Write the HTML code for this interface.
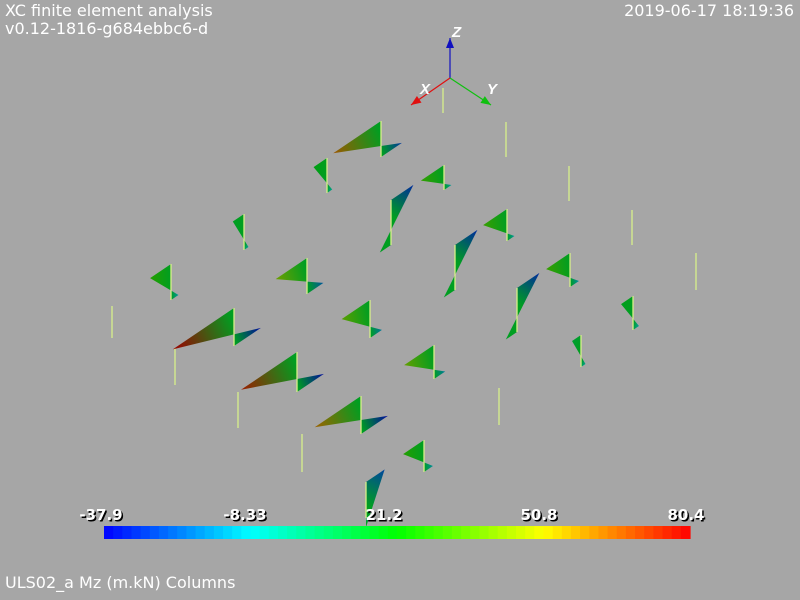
<!DOCTYPE html>
<html><head><meta charset="utf-8"><style>
html,body{margin:0;padding:0;background:#a6a6a6;}
#wrap{position:relative;width:800px;height:600px;overflow:hidden;background:#a6a6a6;font-family:"DejaVu Sans","Liberation Sans",sans-serif;}
.t{position:absolute;color:#fff;font-size:16px;white-space:nowrap;}
</style></head><body>
<div id="wrap">
<div class="t" style="left:5px;top:1px">XC finite element analysis</div>
<div class="t" style="left:5px;top:19px">v0.12-1816-g684ebbc6-d</div>
<div class="t" style="right:6px;top:1px">2019-06-17 18:19:36</div>
<div class="t" style="left:5px;top:573px">ULS02_a Mz (m.kN) Columns</div>
<svg id="svg" width="800" height="600" style="position:absolute;left:0;top:0"></svg>
</div>
<script>
// colour scale
const scaleMin = -37.9, scaleMax = 80.4;
const tickLabels = ["-37.9","-8.33","21.2","50.8","80.4"];
// column elements: screen x, top y, length, moment at top, moment at bottom
const colX =   [381,327,244,171,307,234,297,361,370,434,424,444,391,455,517,507,570,633,581,366];
const colY =   [121,158,214,264,258,308,352,396,300,345,440,165,200,245,288,209,253,296,335,482];
const colLen = [ 36, 35, 36, 36, 36, 38, 40, 38, 38, 34, 32, 25, 45, 45, 44, 32, 34, 34, 32, 36];
const mTop =   [ 64, 18, 15, 28, 42, 82, 75, 62, 38, 40, 28, 31,-30,-30,-30, 32, 32, 16, 12,-25];
const mBot =   [-28, -7, -6,-10,-22,-36,-36,-36,-16,-15,-12,-10, 15, 15, 15,-10,-12, -8, -6, -5];
// columns with negligible moment (drawn as lines)
const lineX = [443,506,569,632,696,112,499,175,238,302];
const lineY = [ 88,122,166,210,253,306,388,348,392,434];
const lineL = [ 25, 35, 35, 35, 37, 32, 37, 37, 36, 38];

const NS="http://www.w3.org/2000/svg";
const svg=document.getElementById('svg');
const defs=document.createElementNS(NS,'defs');svg.appendChild(defs);
const K=0.9, D=[-0.83,0.56];
function colour(v){
  let t=(v-scaleMin)/(scaleMax-scaleMin);t=Math.max(0,Math.min(1,t));
  const st=[[0,0,255],[0,255,255],[0,255,0],[255,255,0],[255,0,0]];
  const p=t*4,i=Math.min(3,Math.floor(p)),f=p-i;
  return st[i].map((a,j)=>a+(st[i+1][j]-a)*f);
}
function shade(c,k){return 'rgb('+c.map(x=>Math.round(x*k)).join(',')+')';}
let gid=0;
function tri(p0,p1,p2,v,name){
  const g=document.createElementNS(NS,'linearGradient');
  const id='g'+(gid++);g.setAttribute('id',id);g.setAttribute('gradientUnits','userSpaceOnUse');
  g.setAttribute('x1',p1[0]);g.setAttribute('y1',p1[1]);
  g.setAttribute('x2',(p0[0]+p2[0])/2);g.setAttribute('y2',(p0[1]+p2[1])/2);
  [[0,colour(v)],[1,colour(15)]].forEach(([o,c])=>{const s=document.createElementNS(NS,'stop');s.setAttribute('offset',o);s.setAttribute('stop-color',shade(c,0.62));g.appendChild(s);});
  defs.appendChild(g);
  const pg=document.createElementNS(NS,'polygon');
  pg.setAttribute('points',[p0,p1,p2].map(p=>p.join(',')).join(' '));
  pg.setAttribute('fill','url(#'+id+')');
  
  
  svg.appendChild(pg);
}
function vline(x,y1,y2,name){
  const l=document.createElementNS(NS,'line');
  l.setAttribute('x1',x);l.setAttribute('x2',x);l.setAttribute('y1',y1);l.setAttribute('y2',y2);
  l.setAttribute('stroke','#d8f08a');l.setAttribute('stroke-width','1.3');
  
  
  svg.appendChild(l);
}
for(let i=0;i<lineX.length;i++){vline(lineX[i],lineY[i],lineY[i]+lineL[i],'column-line');}
for(let i=0;i<colX.length;i++){
  const x=colX[i],y=colY[i],L=colLen[i],a=mTop[i],b=mBot[i];
  const f=a/(a-b); const z=[x,y+L*f];
  const P0=[x,y],P1=[x,y+L];
  const A=[x+D[0]*K*a,y+D[1]*K*a], B=[x+D[0]*K*b,y+L+D[1]*K*b];
  tri(P0,A,z,a,'moment-diagram-top');
  tri(z,B,P1,b,'moment-diagram-bottom');
  vline(x,y,y+L,'column');
}
// axes triad
function arrow(x2,y2,col,name){
  const x1=450,y1=78;
  const l=document.createElementNS(NS,'line');
  l.setAttribute('x1',x1);l.setAttribute('y1',y1);l.setAttribute('x2',x2);l.setAttribute('y2',y2);
  l.setAttribute('stroke',col);l.setAttribute('stroke-width','1.2');
  
  
  svg.appendChild(l);
  const dx=x2-x1,dy=y2-y1,n=Math.hypot(dx,dy),ux=dx/n,uy=dy/n;
  const bx=x2-ux*10,by=y2-uy*10;
  const c=document.createElementNS(NS,'polygon');
  c.setAttribute('points',[[x2,y2],[bx-uy*4,by+ux*4],[bx+uy*4,by-ux*4]].map(p=>p.join(',')).join(' '));
  c.setAttribute('fill',col);
  
  
  svg.appendChild(c);
}
arrow(450,38,'#1010c0','z-axis');arrow(411,105,'#e01010','x-axis');arrow(491,105,'#10c010','y-axis');
[['Z',452,37],['X',420,94],['Y',487,94]].forEach(([t,x,y])=>{
  const e=document.createElementNS(NS,'text');e.textContent=t;
  e.setAttribute('x',x);e.setAttribute('y',y);e.setAttribute('fill','#fff');
  e.setAttribute('font-family','Liberation Sans, sans-serif');e.setAttribute('font-size','15');
  e.setAttribute('font-weight','bold');e.setAttribute('font-style','italic');
  
  
  svg.appendChild(e);
});
// colour bar
const cbX=104,cbW=586,cbY=526,cbH=13,nSeg=64;
for(let i=0;i<nSeg;i++){
  const r=document.createElementNS(NS,'rect');
  r.setAttribute('x',cbX+cbW*i/nSeg);r.setAttribute('y',cbY);
  r.setAttribute('width',cbW/nSeg+0.6);r.setAttribute('height',cbH);
  r.setAttribute('fill',shade(colour(scaleMin+(scaleMax-scaleMin)*(i+0.5)/nSeg),1));
  
  
  svg.appendChild(r);
}
const tickX=[101,245,384,539,686];
tickLabels.forEach((t,i)=>{
  [['#000',1.5],['#fff',0]].forEach(([c,o])=>{
    const e=document.createElementNS(NS,'text');e.textContent=t;
    e.setAttribute('x',tickX[i]+o);e.setAttribute('y',520+o);e.setAttribute('fill',c);
    e.setAttribute('text-anchor','middle');
    e.setAttribute('font-family','DejaVu Sans, sans-serif');e.setAttribute('font-size','15');e.setAttribute('font-weight','bold');
    
    
    svg.appendChild(e);
  });
});
</script>
</body></html>
